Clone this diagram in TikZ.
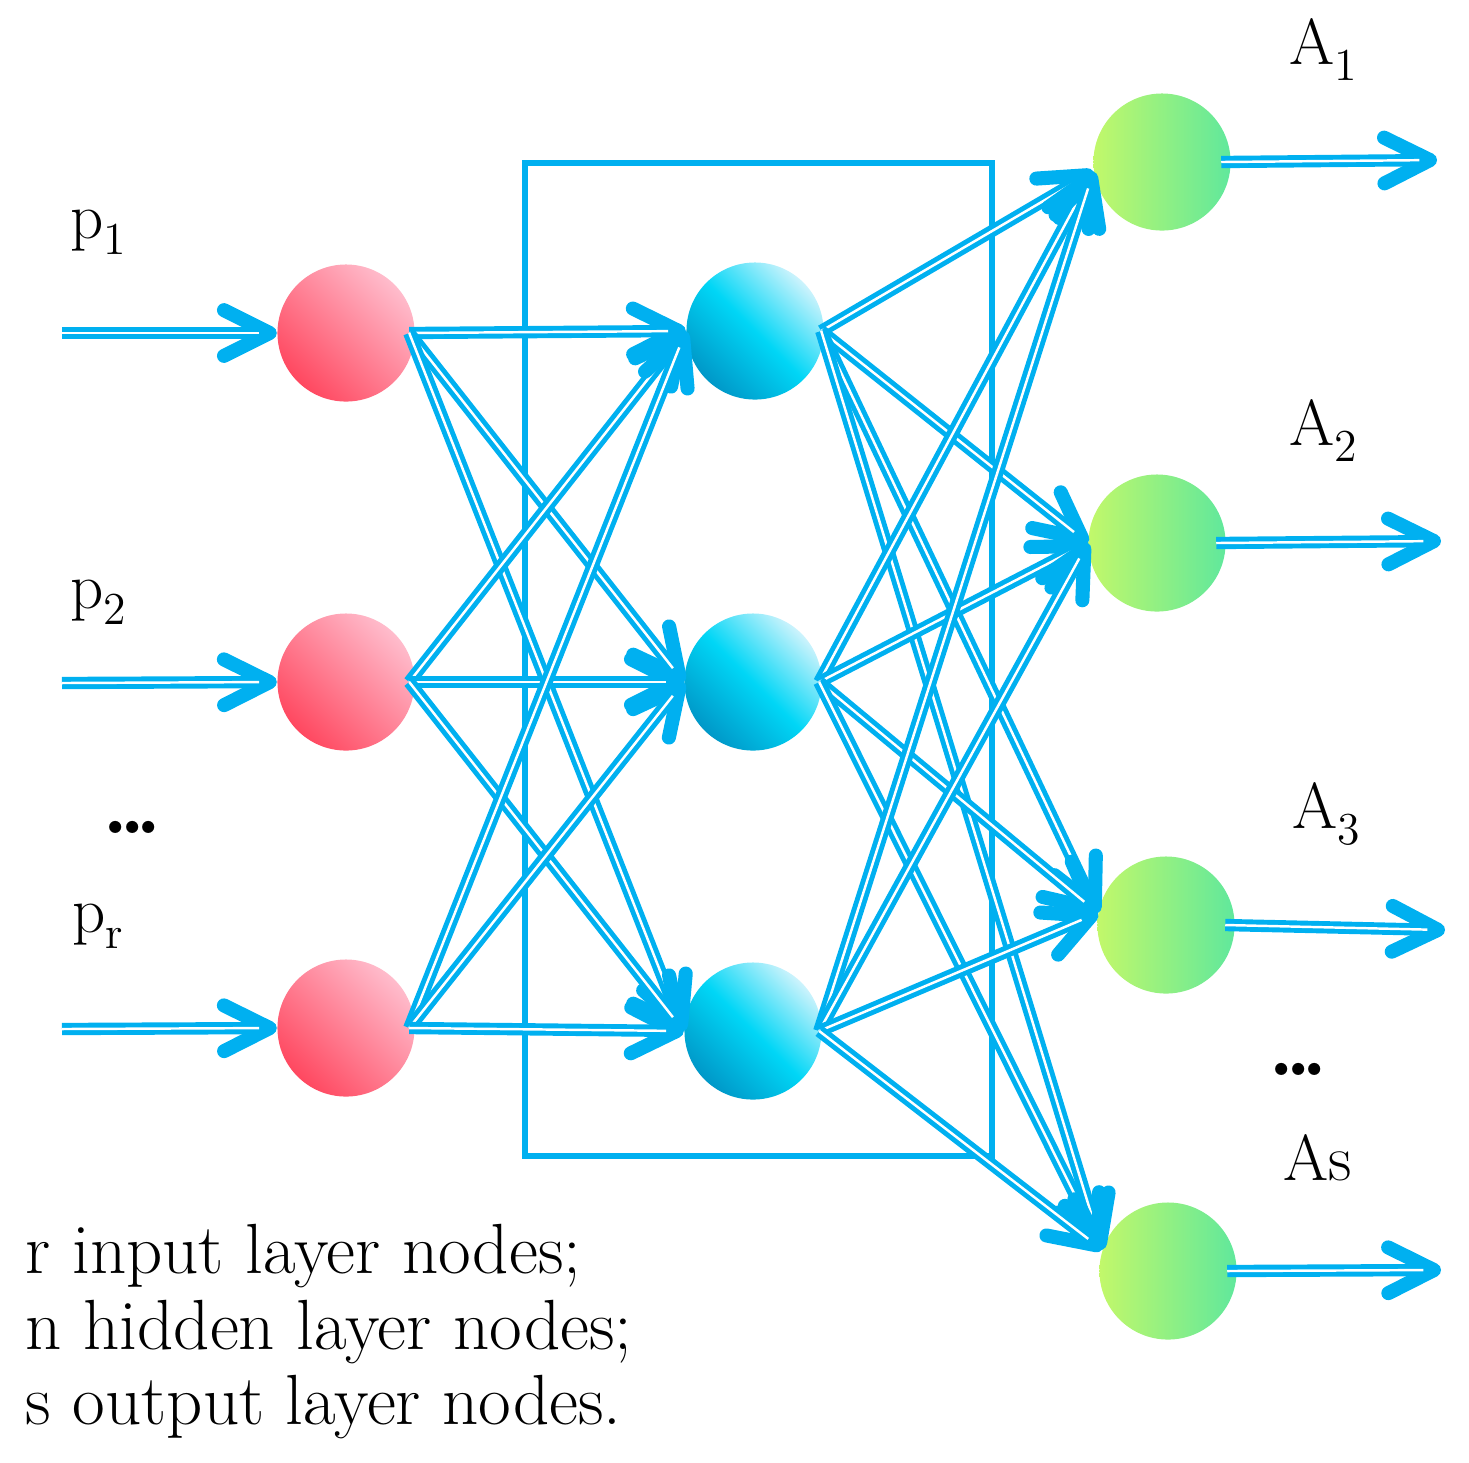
\documentclass[tikz,border=0pt]{standalone}
\usetikzlibrary{arrows.meta,calc}
\definecolor{cy}{HTML}{00B0F0}
\definecolor{redD}{HTML}{FF4860}
\definecolor{redL}{HTML}{FFBCCC}
\definecolor{bluD}{HTML}{0098C8}
\definecolor{bluM}{HTML}{00D6F6}
\definecolor{bluL}{HTML}{CCF3FC}
\definecolor{grnL}{HTML}{C2F86A}
\definecolor{grnR}{HTML}{60E89C}
\newcommand\lsub[1]{\raisebox{-4.6pt}{\fontsize{13pt}{13pt}\selectfont #1}}
\newcommand\lnk[2]{%
  \draw[tipst] ($(#1)!0.95!(#2)$) -- (#2);
  \draw[dbl] (#1) -- (#2);}
\tikzset{
  neuron/.style={circle, minimum size=1.37cm, inner sep=0pt, draw=none},
  inp/.style={neuron, top color=redL, bottom color=redD, shading angle=-45},
  hid/.style={neuron, top color=bluL, bottom color=bluD, middle color=bluM, shading angle=-45},
  outn/.style={neuron, left color=grnL, right color=grnR},
  dbl/.style={draw=cy, line width=1.4pt, double=white, double distance=0.7pt, shorten >=5pt},
  tipst/.style={draw=cy, line width=0.2pt, -{Straight Barb[length=13pt, width=13pt, line width'=4pt, round]}},
  lbl/.style={inner sep=0pt, font=\fontsize{18.5pt}{22pt}\selectfont},
  note/.style={inner sep=0pt, font=\fontsize{20.2pt}{24pt}\selectfont},
  dots/.style={inner sep=0pt, font=\fontsize{24pt}{24pt}\selectfont\bfseries},
  boxst/.style={draw=cy, line width=1.45pt}
}
\begin{document}
\begin{tikzpicture}[x=0.01cm, y=-0.01cm]
\useasboundingbox (0,0) rectangle (1469,1462);
% hidden-layer frame
\draw[boxst] (525,163) rectangle (992,1156);
% neurons
\node[inp] (i1) at (346,333) {};
\node[inp] (i2) at (346,682) {};
\node[inp] (i3) at (346,1028) {};
\node[hid] (h1) at (755,331) {};
\node[hid] (h2) at (753,682) {};
\node[hid] (h3) at (753,1031) {};
\node[outn] (o1) at (1162,162) {};
\node[outn] (o2) at (1157,543) {};
\node[outn] (o3) at (1166,925) {};
\node[outn] (o4) at (1168,1271) {};
% start points inside the circles
\foreach \k in {1,2,3} {\coordinate (ia\k) at ([xshift=-0.06cm]i\k.east);}
\foreach \k in {1,2,3} {\coordinate (ha\k) at ([xshift=-0.03cm]h\k.east);}
\foreach \k in {1,2,3,4} {\coordinate (oa\k) at ([xshift=-0.1cm]o\k.east);}
% free ends
\coordinate (s1) at (62,333);
\coordinate (s2) at (62,683);
\coordinate (s3) at (62,1029);
\coordinate (e1) at (1437,160);
\coordinate (e2) at (1441,541);
\coordinate (e3) at (1445,930);
\coordinate (e4) at (1441,1270);
% input arrows
\foreach \k in {1,2,3} {\lnk{s\k}{i\k.west}}
% input -> hidden
\foreach \i in {1,2,3} {
  \foreach \h in {1,2,3} {\lnk{ia\i}{h\h.west}}
}
% hidden -> output
\foreach \h in {1,2,3} {
  \foreach \o/\a in {1/188,2/180,3/170,4/162} {\lnk{ha\h}{o\o.\a}}
}
% output arrows
\foreach \k in {1,2,3,4} {\lnk{oa\k}{e\k}}
% labels
\node[lbl, anchor=base west] (lp1) at (70,238) {p\lsub{1}};
\node[lbl, anchor=base west] (lp2) at (70,608) {p\lsub{2}};
\node[dots, anchor=base west] (ld1) at (102,833) {.\kern-2.8pt.\kern-2.8pt.};
\node[lbl, anchor=base west] (lpr) at (72,932) {p\lsub{r}};
\node[lbl, anchor=base west] (la1) at (1289,64) {A\lsub{1}};
\node[lbl, anchor=base west] (la2) at (1289,445) {A\lsub{2}};
\node[lbl, anchor=base west] (la3) at (1292,828) {A\lsub{3}};
\node[dots, anchor=base west] (ld2) at (1268,1075) {.\kern-2.8pt.\kern-2.8pt.};
\node[lbl, anchor=base west] (las) at (1283,1180) {As};
\node[note, anchor=base west] (t1) at (25,1273) {r input layer nodes;};
\node[note, anchor=base west] (t2) at (25,1349) {n hidden layer nodes;};
\node[note, anchor=base west] (t3) at (25,1424) {s output layer nodes.};
\end{tikzpicture}
\end{document}
